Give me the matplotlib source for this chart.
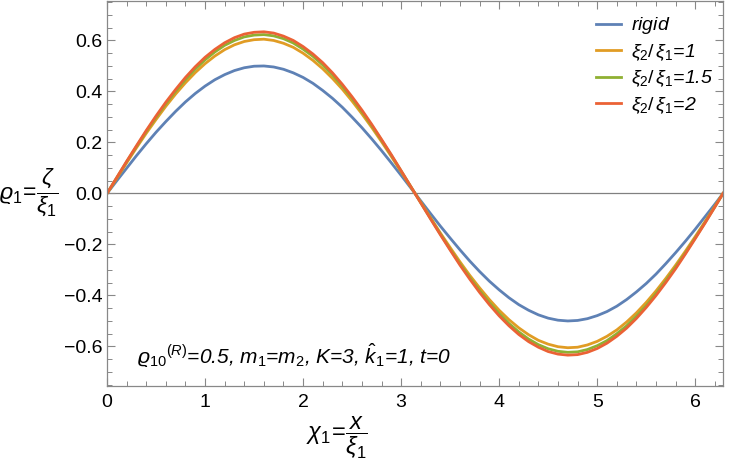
import matplotlib
matplotlib.use("Agg")
import matplotlib.pyplot as plt
from matplotlib.ticker import MultipleLocator

plt.rcParams['font.family'] = ['Liberation Sans', 'DejaVu Sans']
plt.rcParams['mathtext.fontset'] = 'custom'
plt.rcParams['mathtext.rm'] = 'Liberation Sans'
plt.rcParams['mathtext.it'] = 'Liberation Sans:italic'

# curve samples, x step 0.1 up to 2*pi
x = [round(0.1 * i, 1) for i in range(63)] + [6.2832]
rigid = [0, .050, .099, .148, .195, .240, .282, .322, .359, .392, .421, .446, .466, .482, .493, .499,
         .500, .496, .487, .473, .455, .432, .404, .373, .338, .299, .258, .214, .168, .120, .071, .021,
         -.029, -.079, -.128, -.175, -.221, -.265, -.306, -.344, -.378, -.409, -.436, -.458, -.476,
         -.489, -.497, -.500, -.498, -.491, -.479, -.463, -.442, -.416, -.386, -.353, -.316, -.275,
         -.232, -.187, -.140, -.091, -.042, 0]
ratio1 = [0, .060, .120, .179, .236, .290, .342, .390, .434, .474, .509, .539, .564, .583, .596, .603,
          .605, .600, .589, .573, .550, .522, .489, .451, .409, .362, .312, .259, .203, .145, .085, .025,
          -.035, -.095, -.155, -.212, -.268, -.321, -.370, -.416, -.458, -.495, -.527, -.554, -.576,
          -.591, -.601, -.605, -.603, -.594, -.580, -.560, -.535, -.504, -.468, -.427, -.382, -.333,
          -.281, -.226, -.169, -.110, -.050, 0]
ratio15 = [0, .062, .124, .184, .243, .299, .352, .401, .447, .488, .524, .555, .581, .600, .614, .621,
           .623, .618, .607, .590, .566, .538, .504, .465, .421, .373, .321, .266, .209, .149, .088, .026,
           -.036, -.098, -.159, -.219, -.276, -.330, -.381, -.428, -.471, -.510, -.543, -.571, -.593,
           -.609, -.619, -.623, -.621, -.612, -.597, -.577, -.550, -.519, -.481, -.440, -.393, -.343,
           -.289, -.233, -.174, -.114, -.052, 0]
ratio2 = [0, .063, .126, .187, .247, .304, .358, .408, .455, .497, .534, .565, .591, .611, .625, .632,
          .634, .629, .617, .600, .576, .547, .513, .473, .428, .379, .327, .271, .212, .152, .089, .026,
          -.037, -.100, -.162, -.222, -.281, -.336, -.388, -.436, -.480, -.519, -.553, -.581, -.603,
          -.620, -.630, -.634, -.632, -.623, -.608, -.587, -.560, -.528, -.490, -.447, -.400, -.349,
          -.295, -.237, -.177, -.116, -.053, 0]

series = [rigid, ratio1, ratio15, ratio2]
labels = [r'$rigid$', r'$\xi_2/\,\xi_1$=1', r'$\xi_2/\,\xi_1$=1.5', r'$\xi_2/\,\xi_1$=2']
colors = ['#5E81B5', '#E19C24', '#8FB032', '#EB6235']

fig = plt.figure(figsize=(7.31, 4.69), dpi=100)
ax = fig.add_axes([0.1464, 0.177, 0.8427, 0.821])

ax.axhline(0, color='#808080', lw=0.9, zorder=1)
for ys, lab, c in zip(series, labels, colors):
    ax.plot(x, ys, color=c, lw=2, label=lab, zorder=2)

ax.set_xlim(0, 6.2832)
ax.set_ylim(-0.755, 0.755)
ax.xaxis.set_major_locator(MultipleLocator(1))
ax.xaxis.set_minor_locator(MultipleLocator(0.2))
ax.yaxis.set_major_locator(MultipleLocator(0.2))
ax.yaxis.set_minor_locator(MultipleLocator(0.05))
ax.tick_params(which='both', direction='in', top=True, right=True, color='#888888',
               labelsize=14, labelcolor='black')
ax.tick_params(which='major', length=6, width=0.8)
ax.tick_params(which='minor', length=3.5, width=0.7)
ax.tick_params(axis='x', which='major', pad=6)
ax.tick_params(axis='y', which='major', pad=3)
for s in ax.spines.values():
    s.set_color('#888888')
    s.set_linewidth(0.9)

leg = ax.legend(loc='upper right', frameon=False, fontsize=14, handlelength=1.3,
                handletextpad=0.5, labelspacing=0.3, bbox_to_anchor=(1.012, 1.008))
for t in leg.get_texts():
    t.set_fontstyle('italic')

fig.text(0.039, 0.59, r'$\varrho_1\!=\!\dfrac{\zeta}{\xi_1}$', fontsize=16.5, ha='center', va='center')
fig.text(0.461, 0.066, r'$\chi_1\!=\!\dfrac{x}{\xi_1}$', fontsize=17, ha='center', va='center')

ax.text(0.31, -0.635, r'$\varrho_{10}$$^{(R)}$=0.5, $m_1$=$m_2$, $K$=3, $\hat{k}_1$=1, $t$=0',
        fontsize=15, style='italic', va='center')

fig.savefig('out.png', dpi=100)
